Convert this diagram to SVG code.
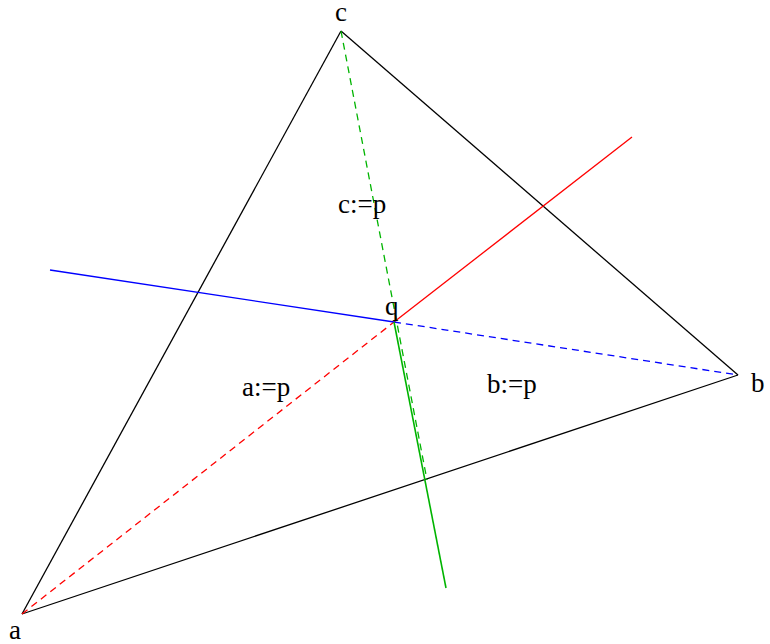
<svg xmlns="http://www.w3.org/2000/svg" width="770" height="644" viewBox="0 0 770 644">
<style>
line{stroke-width:1.3;fill:none}
.k{stroke:#000}
.r{stroke:#ff0000}
.bl{stroke:#0000ff}
.g{stroke:#00b400}
.d{stroke-dasharray:7,5}
text{font-family:"Liberation Serif","Times New Roman",serif;font-size:27px;fill:#000}
</style>
<rect width="770" height="644" fill="#fff"/>
<g id="connectors">
<line class="k" x1="22" y1="614" x2="341" y2="31"/>
<line class="k" x1="341" y1="31" x2="738" y2="375"/>
<line class="k" x1="22" y1="614" x2="738" y2="375"/>
<line class="r d" x1="22" y1="614" x2="394" y2="322"/>
<line class="r" x1="394" y1="322" x2="632" y2="137"/>
<line class="bl" x1="50" y1="270" x2="394" y2="322"/>
<line class="bl d" x1="394" y1="322" x2="738" y2="375"/>
<line class="g d" x1="341" y1="31" x2="427" y2="480"/>
<line class="g" x1="394" y1="322" x2="446" y2="588" style="stroke-width:1.6"/>
</g>
<g id="node-a"><text x="9" y="639">a</text></g>
<g id="node-b"><text x="751" y="392">b</text></g>
<g id="node-c"><text x="335" y="21">c</text></g>
<g id="node-q"><text x="385" y="315">q</text></g>
<g id="label-c"><text x="338" y="213">c:=p</text></g>
<g id="label-a"><text x="242" y="396">a:=p</text></g>
<g id="label-b"><text x="487" y="393">b:=p</text></g>
</svg>
